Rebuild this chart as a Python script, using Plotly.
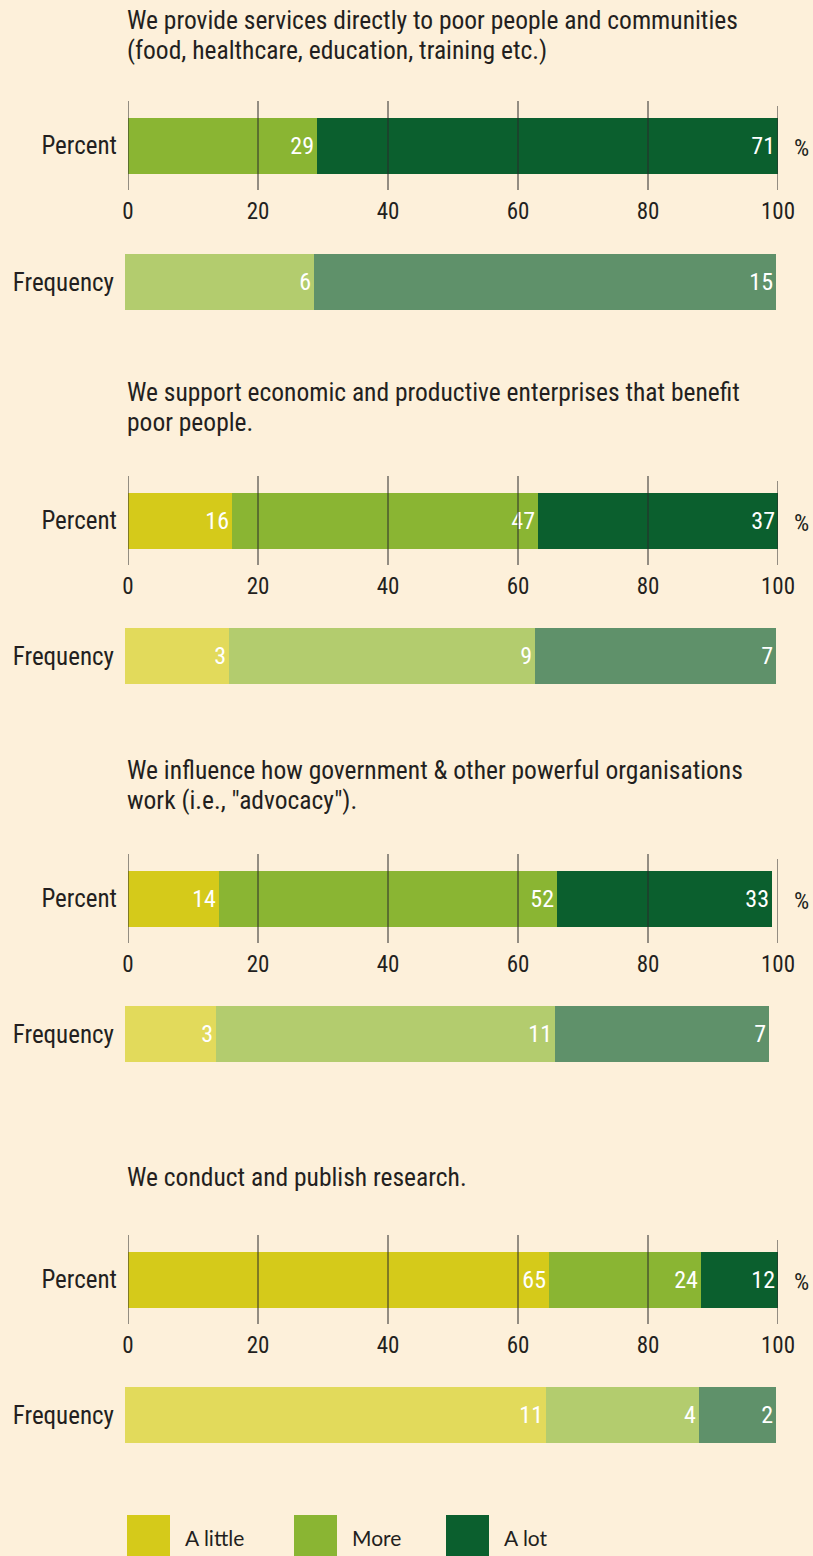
import plotly.graph_objects as go

# ---------------- data ----------------
titles = [
    "We provide services directly to poor people and communities<br>(food, healthcare, education, training etc.)",
    "We support economic and productive enterprises that benefit<br>poor people.",
    "We influence how government &amp; other powerful organisations<br>work (i.e., \"advocacy\").",
    "We conduct and publish research.",
]
levels = ["A little", "More", "A lot"]
row_labels = ["Percent", "Frequency"]
pct_values = [
    [None, 29, 71],
    [16, 47, 37],
    [14, 52, 33],
    [64.7, 23.5, 11.8],
]
freq_values = [
    [None, 6, 15],
    [3, 9, 7],
    [3, 11, 7],
    [11, 4, 2],
]
tick_vals = [0, 20, 40, 60, 80, 100]

pct_colors = ["#D5CA1A", "#8AB533", "#0B5F2E"]
freq_colors = ["#E2DA5B", "#B3CC6E", "#5F916A"]
bg = "#FDF0DA"
ink = "#231F20"
FONT = "Liberation Sans Narrow, Roboto Condensed, Arial Narrow, Liberation Sans, sans-serif"

# ---------------- geometry (pixels) ----------------
W, H = 813, 1556
def py(p):
    return 1 - p / H

panels = [
    dict(title=20, pct=(118, 174), grid=(101, 190), freq=(254, 310)),
    dict(title=392, pct=(493, 549), grid=(476, 565), freq=(628, 684)),
    dict(title=770, pct=(871, 927), grid=(854, 943), freq=(1006, 1062)),
    dict(title=1177, pct=(1252, 1308), grid=(1235, 1324), freq=(1387, 1443)),
]
pct_x = (128 / W, 778 / W)
freq_x = (125 / W, 776 / W)

fig = go.Figure()
layout = {}
shapes = []
annotations = []

for i, pan in enumerate(panels):
    npct, nfrq = 2 * i + 1, 2 * i + 2
    sp = "" if npct == 1 else str(npct)
    sf = str(nfrq)
    gtop, gbot = pan["grid"]
    bar_frac = (pan["pct"][1] - pan["pct"][0]) / (gbot - gtop)

    for k, lvl in enumerate(levels):
        v = pct_values[i][k]
        fig.add_trace(go.Bar(
            x=[v], y=[row_labels[0]], orientation="h", width=bar_frac,
            marker=dict(color=pct_colors[k], line=dict(width=0)),
            text=[None if v is None else f"{v:.0f}"], textposition="inside",
            insidetextanchor="end", textfont=dict(color="white", size=24, family=FONT),
            xaxis="x" + sp, yaxis="y" + sp, showlegend=False, hoverinfo="skip",
        ))
        f = freq_values[i][k]
        fig.add_trace(go.Bar(
            x=[v], y=[row_labels[1]], orientation="h", width=1,
            marker=dict(color=freq_colors[k], line=dict(width=0)),
            text=[None if f is None else str(f)], textposition="inside",
            insidetextanchor="end", textfont=dict(color="white", size=24, family=FONT),
            xaxis="x" + sf, yaxis="y" + sf, showlegend=False, hoverinfo="skip",
        ))

    layout["xaxis" + sp] = dict(
        domain=pct_x, range=[0, 100], anchor="y" + sp, showgrid=False, zeroline=False,
        showline=False, tickvals=tick_vals, ticks="", ticklabelstandoff=5, automargin=False,
        tickfont=dict(size=23, color=ink, family=FONT), fixedrange=True,
    )
    layout["yaxis" + sp] = dict(
        domain=[py(gbot), py(gtop)], range=[-0.5, 0.5], anchor="x" + sp, automargin=False,
        showgrid=False, zeroline=False, showline=False, ticks="", ticklabelstandoff=10,
        tickfont=dict(size=25, color=ink, family=FONT), fixedrange=True,
    )
    layout["xaxis" + sf] = dict(
        domain=freq_x, range=[0, 100], anchor="y" + sf, visible=False, fixedrange=True,
        automargin=False,
    )
    layout["yaxis" + sf] = dict(
        domain=[py(pan["freq"][1]), py(pan["freq"][0])], range=[-0.5, 0.5], anchor="x" + sf,
        showgrid=False, zeroline=False, showline=False, ticks="", ticklabelstandoff=10,
        tickfont=dict(size=25, color=ink, family=FONT), fixedrange=True, automargin=False,
    )

    for t in tick_vals:
        shapes.append(dict(
            type="line", xref="x" + sp, yref="paper", x0=t, x1=t,
            y0=py(gbot), y1=py(gtop + (5 if t == 100 else 0)),
            line=dict(color="#2A2A2A", width=1), layer="above",
        ))

    for j, line in enumerate(titles[i].split("<br>")):
        annotations.append(dict(
            text=line, xref="paper", yref="paper", x=125 / W, y=py(pan["title"] + 30 * j),
            xanchor="left", yanchor="middle", align="left", showarrow=False,
            font=dict(size=25.5, color=ink, family=FONT),
        ))
    annotations.append(dict(
        text="%", xref="paper", yref="paper", x=801 / W, y=py((pan["pct"][0] + pan["pct"][1]) / 2 + 2),
        xanchor="center", yanchor="middle", showarrow=False,
        font=dict(size=24, color=ink, family=FONT),
    ))

# legend drawn with shapes + text
legend_x = [127, 294, 446]
for k, lvl in enumerate(levels):
    x0 = legend_x[k]
    shapes.append(dict(
        type="rect", xref="paper", yref="paper", x0=x0 / W, x1=(x0 + 43) / W,
        y0=py(1556), y1=py(1515), fillcolor=pct_colors[k], line=dict(width=0),
    ))
    annotations.append(dict(
        text=lvl, xref="paper", yref="paper", x=(x0 + 56) / W, y=py(1537),
        xanchor="left", yanchor="middle", showarrow=False,
        font=dict(size=21, color=ink, family="Lato, Noto Sans, sans-serif"),
    ))

fig.update_layout(
    width=W, height=H, autosize=False, margin=dict(l=0, r=0, t=0, b=0, pad=0),
    paper_bgcolor=bg, plot_bgcolor=bg, barmode="stack", bargap=0,
    shapes=shapes, annotations=annotations, showlegend=False,
    font=dict(family=FONT, color=ink),
    **layout,
)
fig.write_html(
    "out.html",
    config={"responsive": False, "displayModeBar": False},
    post_script=(
        "document.body.style.margin='0';document.body.style.overflow='hidden';"
        "document.body.style.background='" + bg + "';"
    ),
)
